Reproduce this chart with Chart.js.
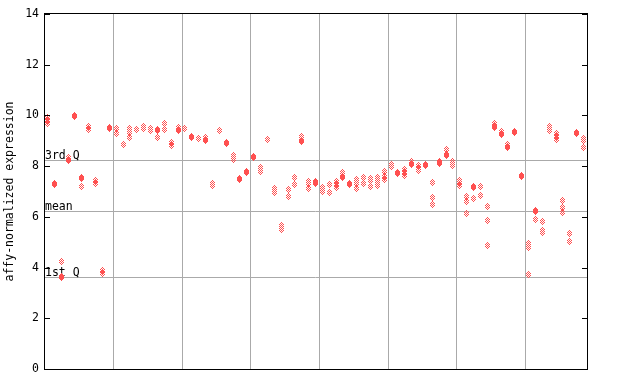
<!DOCTYPE html>
<html><head><meta charset="utf-8">
<script src="https://cdn.jsdelivr.net/npm/chart.js@4/dist/chart.umd.min.js"></script>
<style>html,body{margin:0;padding:0;background:#fff;}#wrap{width:640px;height:384px;position:relative;}</style>
</head><body><div id="wrap"><canvas id="c"></canvas></div>
<script>
// categories: 79 samples
const samples = Array.from({length: 79}, (_, i) => String(i + 1));
// replicate values per sample (null = no replicate)
const rep1 = [9.92,7.3,4.25,8.36,10.0,7.56,9.55,7.45,3.9,9.52, 9.5,8.87,9.5,9.46,9.56,9.47,9.44,9.69,8.92,9.53,
  9.5,9.18,9.1,9.12,7.33,9.42,8.95,8.42,7.51,7.8, 8.37,7.93,9.07,7.1,5.65,7.09,7.56,9.15,7.4,7.4,
  7.14,7.28,7.4,7.76,7.31,7.49,7.56,7.53,7.56,7.8, 8.06,7.75,7.86,8.2,8.03,8.05,7.36,8.2,8.64,8.17,
  7.42,6.82,7.18,7.2,6.41,9.69,9.38,8.87,9.37,7.62, 4.96,6.26,5.82,9.55,9.29,6.66,5.35,9.33,9.1];
const rep2 = [9.8,7.26,3.63,8.26,9.96,7.52,9.45,7.3,3.75,9.49, 9.3,8.85,9.33,9.44,9.5,9.42,9.4,9.45,8.8,9.45,
  9.47,9.14,9.08,9.05,7.25,9.4,8.9,8.28,7.49,7.74, 8.35,7.77,9.05,7.03,5.52,6.82,7.29,9.0,7.32,7.35,
  7.07,6.97,7.27,7.6,7.29,7.31,7.33,7.43,7.4,7.6, 8.0,7.71,7.76,8.1,7.9,8.03,6.78,8.15,8.46,8.12,
  7.36,6.61,7.14,6.85,5.86,9.56,9.3,8.78,9.34,7.58, 4.8,6.22,5.48,9.5,9.16,6.38,5.04,9.3,9.03];
const rep3 = [9.7,null,3.6,8.22,null,7.18,null,null,null,null, null,null,9.14,null,null,null,9.14,null,null,9.42,
  null,null,null,9.03,null,null,null,null,null,null, null,null,null,6.95,null,null,null,8.97,7.12,7.32,
  7.0,null,7.14,7.56,null,7.12,null,7.2,7.23,7.49, 7.97,null,7.64,8.06,7.82,null,6.49,8.12,8.42,8.04,
  7.24,6.12,6.73,null,4.88,9.52,9.25,8.73,null,null, 3.71,5.88,5.4,9.4,9.07,6.18,null,null,8.75];
const yTickValues = [0, 2, 4, 6, 8, 10, 12, 14];
const groupLines = [1, 2, 3, 4, 5, 6, 7];
const refLines = [8.24, 6.23, 3.62];
const refLabels = ['3rd Q', 'mean', '1st Q'];

const FONT_FAMILY = '"DejaVu Sans Mono", "Liberation Mono", monospace';
const FONT = '11.5px ' + FONT_FAMILY;
const POINT_COLOR = 'rgb(255,80,80)';
const GRID_COLOR = '#aaaaaa';

function makeDiamond(color) {
  const mask = ['..x..', '.x.x.', 'x.x.x', '.x.x.', 'x.x.x', '.x.x.', '..x..'];
  const c = document.createElement('canvas');
  c.width = 5; c.height = 7;
  const g = c.getContext('2d');
  g.fillStyle = color;
  mask.forEach((row, r) => [...row].forEach((ch, k) => { if (ch === 'x') g.fillRect(k, r, 1, 1); }));
  return c;
}
const diamond = makeDiamond(POINT_COLOR);

const decor = {
  id: 'decor',
  beforeDatasetsDraw(chart) {
    const {ctx, chartArea: a, scales: {y}} = chart;
    ctx.save();
    ctx.strokeStyle = GRID_COLOR;
    ctx.lineWidth = 1;
    ctx.font = FONT;
    ctx.fillStyle = '#000';
    ctx.textAlign = 'left';
    ctx.textBaseline = 'alphabetic';
    refLines.forEach((v, i) => {
      const py = Math.round(y.getPixelForValue(v)) + 0.5;
      ctx.beginPath(); ctx.moveTo(a.left, py); ctx.lineTo(a.right, py); ctx.stroke();
      ctx.fillText(refLabels[i], a.left + 1, py - 1.5);
    });
    ctx.restore();
    ctx.imageSmoothingEnabled = false;
  },
  afterDraw(chart) {
    const {ctx, chartArea: a, scales: {y}} = chart;
    ctx.save();
    ctx.strokeStyle = '#000';
    ctx.lineWidth = 1;
    ctx.strokeRect(a.left + 0.5, a.top - 0.5, a.right - a.left, a.bottom - a.top + 1);
    ctx.beginPath();
    yTickValues.forEach(v => {
      const py = Math.round(y.getPixelForValue(v)) + 0.5;
      ctx.moveTo(a.left, py); ctx.lineTo(a.left + 6, py);
      ctx.moveTo(a.right + 1, py); ctx.lineTo(a.right - 5, py);
    });
    ctx.stroke();
    ctx.restore();
  }
};

const mk = (data) => ({
  data, xAxisID: 'x', yAxisID: 'y', showLine: false,
  pointStyle: diamond, pointRadius: 3, pointHoverRadius: 3,
  backgroundColor: POINT_COLOR, borderColor: POINT_COLOR
});

new Chart(document.getElementById('c'), {
  type: 'line',
  data: { labels: samples, datasets: [mk(rep1), mk(rep2), mk(rep3)] },
  options: {
    responsive: true, maintainAspectRatio: false, animation: false, events: [],
    layout: { padding: { left: 0, right: 53, top: 14, bottom: 15 } },
    plugins: { legend: { display: false }, tooltip: { enabled: false } },
    scales: {
      x: { type: 'category', offset: true, display: false },
      xg: {
        type: 'linear', position: 'bottom', min: -0.012, max: 7.895,
        grid: { color: GRID_COLOR, lineWidth: 1, drawTicks: false },
        ticks: { display: false }, border: { display: false },
        afterBuildTicks: s => { s.ticks = groupLines.map(v => ({value: v})); },
        afterFit: s => { s.height = 0; }
      },
      y: {
        type: 'linear', position: 'left', min: 0, max: 14,
        grid: { display: false, drawTicks: false }, border: { display: false },
        afterBuildTicks: s => { s.ticks = yTickValues.map(v => ({value: v})); },
        ticks: { color: '#000', font: { family: FONT_FAMILY, size: 11.5 }, padding: 5 },
        title: { display: true, text: 'affy-normalized expression', color: '#000',
                 font: { family: FONT_FAMILY, size: 11.5 }, padding: { top: 3, bottom: 0 } },
        afterFit: s => { s.width = 44; }
      }
    }
  },
  plugins: [decor]
});
</script></body></html>
